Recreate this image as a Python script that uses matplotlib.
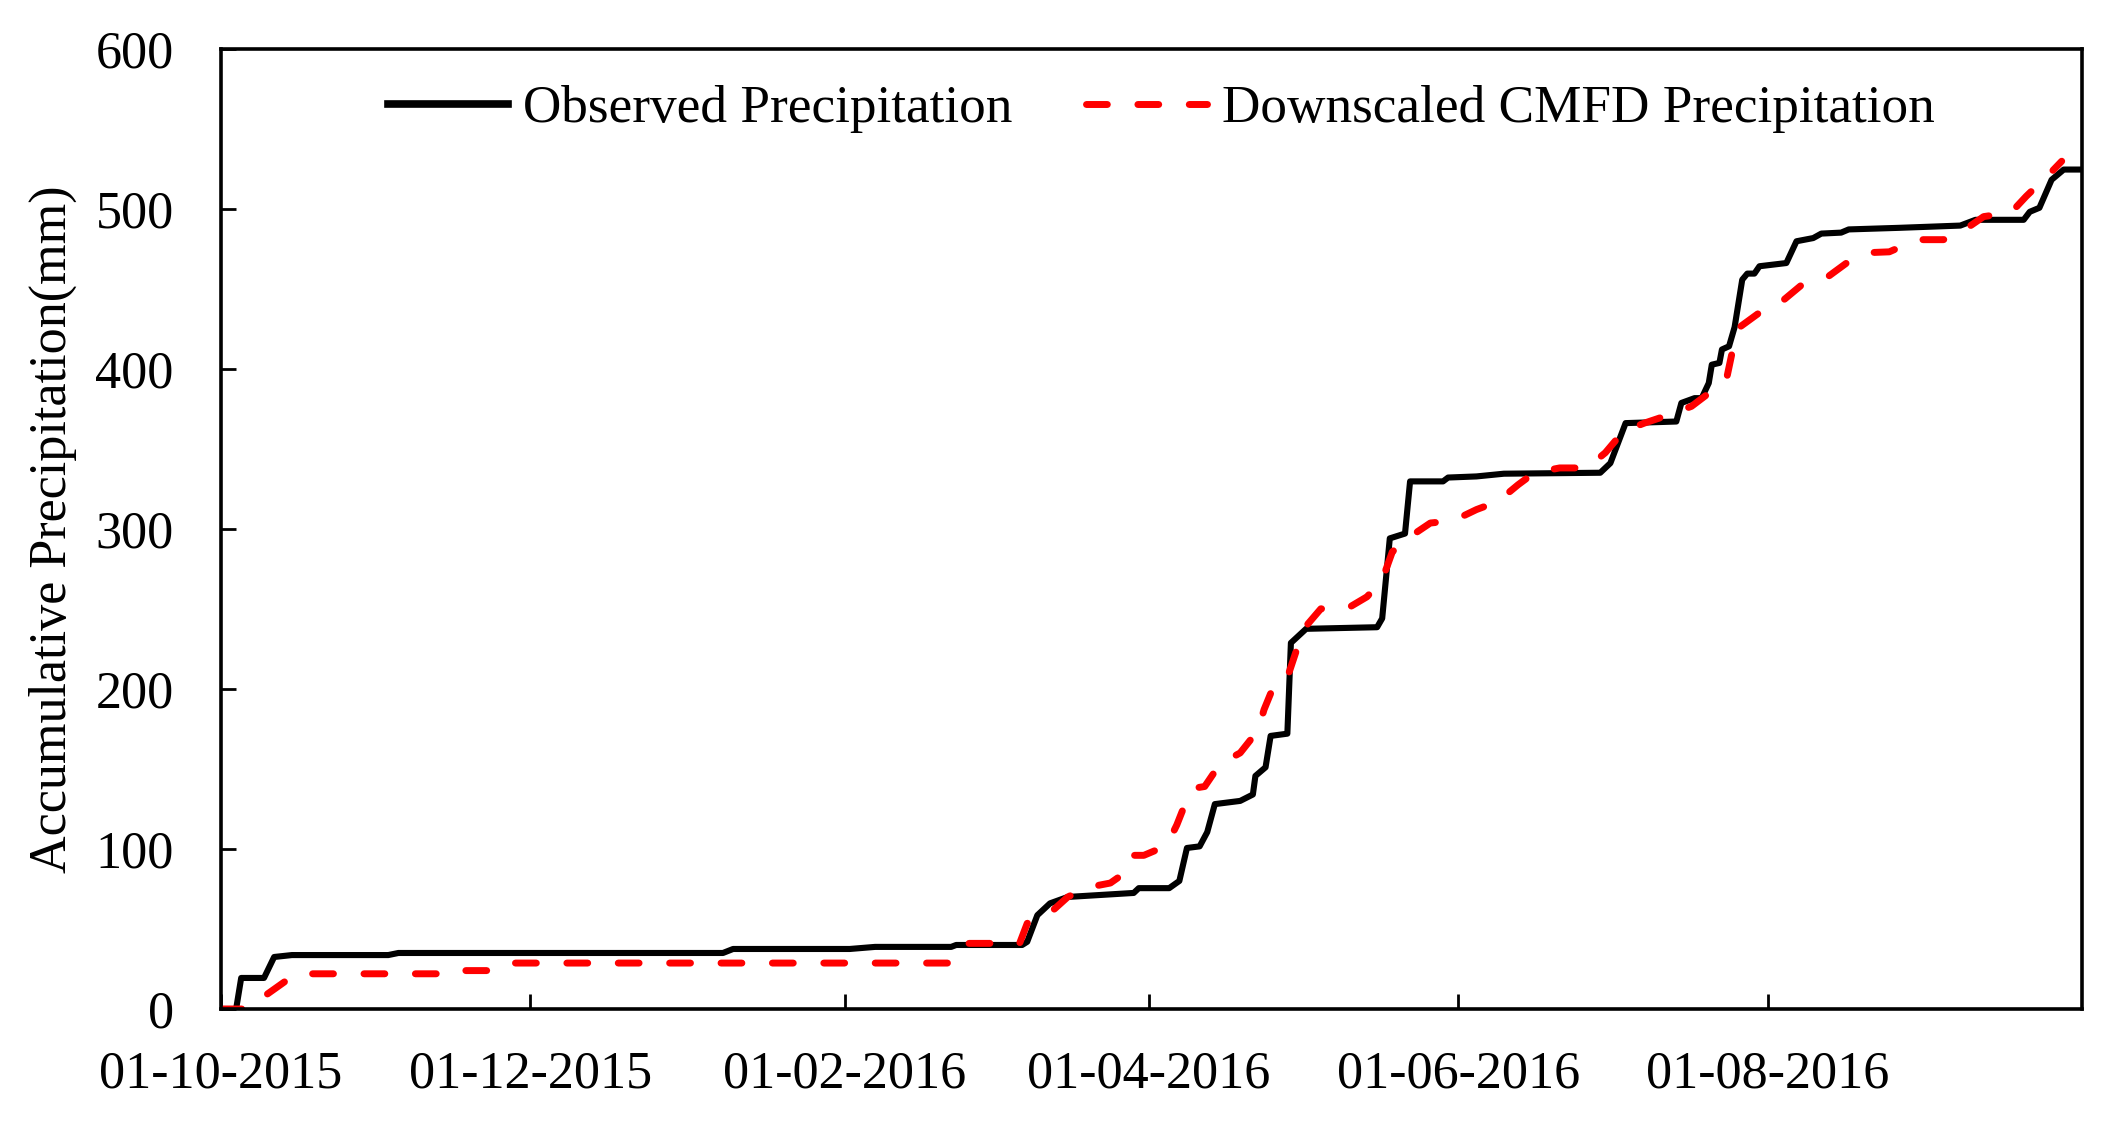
import datetime as dt
import matplotlib
matplotlib.use("Agg")
from matplotlib import pyplot as plt
import matplotlib.dates as mdates

plt.rcParams['font.family'] = ['Liberation Serif', 'DejaVu Serif']

start = dt.datetime(2015, 10, 1)

# days after 01-10-2015 and accumulated precipitation (mm)
obs_day = [0, 3, 4, 8.5, 10.5, 14, 33, 35, 99, 101, 124, 129, 144, 145, 158, 159,
           161, 163.5, 167, 180, 181, 187, 189, 190.5, 193, 194.5, 196, 201, 203.5,
           204, 206, 207, 210.3, 211, 214, 228, 229, 230.5, 233.5, 234.5, 241, 242,
           247.6, 253, 272, 274, 277, 287, 288, 290.6, 292, 293.4, 294, 295.5, 296,
           297.4, 298.5, 300, 301, 302.4, 303.4, 308.7, 310.7, 314, 315.6, 319.5,
           321, 331, 343, 346, 355.5, 356.7, 358.6, 361, 363.4, 367]
obs_val = [0, 0, 19.4, 19.4, 32.5, 33.7, 33.7, 35, 35, 37.5, 37.5, 38.8, 38.8, 40, 40, 42,
           58.6, 66, 70, 72.5, 75.5, 75.5, 80, 100.6, 101.6, 110.5, 128, 130, 134,
           145.6, 151, 170.6, 172, 228.7, 237.5, 238.5, 244, 294, 297, 329.6, 329.6, 332,
           332.7, 334.4, 335, 341, 366, 367, 378.6, 381.6, 381.6, 391, 402.5, 403.6, 412,
           414, 426, 455.6, 459.4, 459.4, 464, 466, 479.6, 481.6, 484.4, 485,
           487, 488, 489.4, 493, 493, 498, 500.5, 518, 524.4, 524.4]

cmfd_day = [0, 5, 7, 9, 13, 15, 47, 48, 53, 56, 143.3, 146.7, 157.5, 159, 163.5, 167,
            171, 175.4, 179.4, 180, 182, 186.5, 188.5, 190.5, 192, 194, 197, 201, 204.5,
            205.7, 207.7, 210.3, 212.4, 214.2, 216.9, 222, 226, 229, 231, 234, 238.5,
            243, 247.6, 251.8, 255.8, 259, 264, 269.4, 273, 276.6, 280.7, 285.4, 290,
            293, 296, 297, 298, 299.5, 303.4, 308, 311.6, 317, 321, 325, 329, 334.5,
            339.7, 344.4, 347.6, 353, 356, 361, 363]
cmfd_val = [0, 0, 4, 9, 18, 22, 22, 24, 24, 28.7, 28.7, 41, 41, 53.5, 60, 70,
            76, 78.7, 87.6, 96, 96, 102, 115, 131, 138, 139, 153, 160, 174,
            187, 202.5, 207, 227, 240, 250, 250, 257.5, 268, 285.6, 294, 303.6,
            305, 312, 317, 327.5, 335, 338, 338, 347.5, 361, 366, 371, 376.5,
            383.7, 390, 395, 410, 426, 435, 442.5, 452, 457.7, 467, 472.5, 473, 480.6,
            480.6, 488, 495, 497.5, 507.7, 523, 529.6]

tick_dates = ['01-10-2015', '01-12-2015', '01-02-2016', '01-04-2016', '01-06-2016', '01-08-2016']

obs_x = [start + dt.timedelta(days=d) for d in obs_day]
cmfd_x = [start + dt.timedelta(days=d) for d in cmfd_day]

fig = plt.figure(figsize=(21.18, 11.26), dpi=100)
ax = fig.add_axes([0.1043, 0.1039, 0.8787, 0.8530])

ax.plot(obs_x, obs_val, color='black', linewidth=4.4, label='Observed Precipitation',
        solid_joinstyle='round')
ax.plot(cmfd_x, cmfd_val, color='#ff0000', linewidth=5, linestyle=(0, (3.0, 4.4)),
        dash_capstyle='round', label='Downscaled CMFD Precipitation')

ax.set_ylim(0, 600)
ax.set_yticks(range(0, 601, 100))
ax.set_xlim(start, start + dt.timedelta(days=367))
ax.set_xticks([dt.datetime.strptime(s, '%d-%m-%Y') for s in tick_dates])
ax.xaxis.set_major_formatter(mdates.DateFormatter('%d-%m-%Y'))

ax.tick_params(axis='both', direction='in', length=11, width=2, labelsize=37.5, color='black')
ax.tick_params(axis='y', pad=34)
ax.tick_params(axis='x', pad=30)
for sp in ax.spines.values():
    sp.set_linewidth(2.6)

ax.set_ylabel('Accumulative Precipitation(mm)', fontsize=37.5, labelpad=13)

leg = ax.legend(loc='center', bbox_to_anchor=(1161 / 2118, 1 - 109 / 1126),
                bbox_transform=fig.transFigure, ncol=2, frameon=False, fontsize=38.3,
                handlelength=2.27, handletextpad=0.28, columnspacing=1.38)
leg.get_lines()[0].set_linewidth(5.5)

fig.savefig('out.png', dpi=100)
